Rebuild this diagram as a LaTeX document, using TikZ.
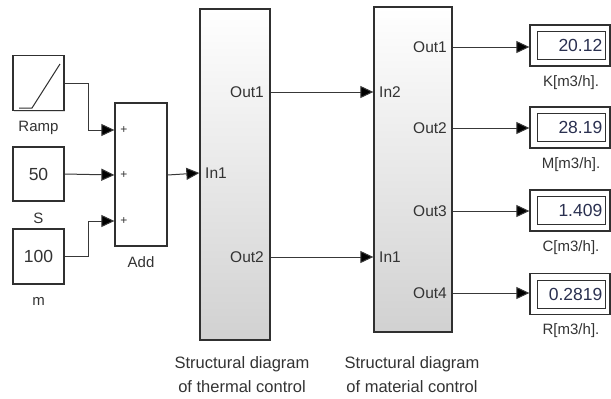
\documentclass[tikz,border=0pt]{standalone}
\usepackage{fontspec}
\setmainfont{Liberation Sans}
\usetikzlibrary{arrows.meta,shadows}
\definecolor{wire}{HTML}{383838}
\definecolor{edge}{HTML}{303030}
\definecolor{txt}{HTML}{333333}
\definecolor{valc}{HTML}{2A3050}
\tikzset{
  blk/.style={draw=edge,line width=1.3pt,fill=white,minimum width=51pt,minimum height=55pt,inner sep=0pt,
    drop shadow={shadow xshift=1.2pt,shadow yshift=-1.2pt,fill=black!25}},
  subsys/.style={draw=edge,line width=1.3pt,top color=white,bottom color=black!18,inner sep=0pt,
    drop shadow={shadow xshift=1.2pt,shadow yshift=-1.2pt,fill=black!25}},
  lbl/.style={font=\fontsize{15}{17}\selectfont,text=txt,inner sep=0pt},
  plbl/.style={font=\fontsize{15.5}{17}\selectfont,text=txt,inner sep=0pt},
  wireline/.style={draw=wire,line width=1pt,-{Triangle[length=13pt,width=12pt,fill=black]}},
  dispout/.style={draw=edge,line width=1.3pt,fill=white,minimum width=80pt,minimum height=41pt,inner sep=0pt},
  dispin/.style={draw=edge,line width=1pt,minimum width=68pt,minimum height=28pt,inner sep=0pt},
  val/.style={font=\fontsize{17.5}{19}\selectfont,text=valc,inner sep=0pt,anchor=east},
  plus/.style={font=\fontsize{12}{12}\selectfont,text=txt,inner sep=0pt},
  captxt/.style={align=center,text=txt,inner sep=0pt,font=\fontsize{16.5}{24}\selectfont},
}
\begin{document}
\begin{tikzpicture}[x=1pt,y=-1pt]
\useasboundingbox (0,0) rectangle (611,399);
% sources
\node[blk] (ramp) at (38.5,83) {};
\draw[edge,line width=1pt] (19,108) -- (32,108) -- (60,64);
\node[lbl] (rampl) at (38.5,128) {Ramp};
\node[blk,minimum height=54pt] (s) at (38.5,174) {\fontsize{17.5}{19}\selectfont\color{txt}50};
\node[lbl] (sl) at (38.5,218) {S};
\node[blk] (m) at (38.5,256.5) {\fontsize{17.5}{19}\selectfont\color{txt}100};
\node[lbl] (ml) at (38.5,301) {m};
% add
\node[blk,minimum width=52pt,minimum height=143pt] (add) at (141,174.5) {};
\node[lbl] (addl) at (141,262) {Add};
\node[plus] (p1) at (124,130) {+};
\node[plus] (p2) at (124,175) {+};
\node[plus] (p3) at (124,221) {+};
\coordinate (j1) at (88,130);
\coordinate (j3) at (88,221);
\draw[wireline] (ramp.east) -| (j1) -- (add.west |- p1);
\draw[wireline] (s.east) -- (add.west |- p2);
\draw[wireline] (m.east) -| (j3) -- (add.west |- p3);
% thermal
\node[subsys,minimum width=70pt,minimum height=331pt] (th) at (235,174.5) {};
\node[plbl,anchor=west] (thin) at (205,173) {In1};
\node[plbl,anchor=east] (tho1) at (264,92) {Out1};
\node[plbl,anchor=east] (tho2) at (264,257) {Out2};
\node[captxt] (thc) at (242,375) {Structural diagram\\of thermal control};
\draw[wireline] (add.east |- p2) -- (th.west |- thin);
% material
\node[subsys,minimum width=78pt,minimum height=325pt] (ma) at (413,169.5) {};
\node[plbl,anchor=west] (mi2) at (379,92) {In2};
\node[plbl,anchor=west] (mi1) at (379,257) {In1};
\node[plbl,anchor=east] (mo1) at (447,47) {Out1};
\node[plbl,anchor=east] (mo2) at (447,128) {Out2};
\node[plbl,anchor=east] (mo3) at (447,211) {Out3};
\node[plbl,anchor=east] (mo4) at (447,293) {Out4};
\node[captxt] (mac) at (412,375) {Structural diagram\\of material control};
\draw[wireline] (th.east |- tho1) -- (ma.west |- mi2);
\draw[wireline] (th.east |- tho2) -- (ma.west |- mi1);
% displays
\foreach \n/\y/\v/\l in {1/45.5/20.12/{K[m3/h].},2/127.5/28.19/{M[m3/h].},3/210.5/1.409/{C[m3/h].},4/294/0.2819/{R[m3/h].}}{
  \node[dispout] (d\n) at (570,\y) {};
  \node[dispin] (di\n) at (571,\y) {};
  \node[val] (v\n) at (602.5,\y) {\v};
  \node[lbl] (dl\n) at (571,\y+37) {\l};
}
\draw[wireline] (ma.east |- mo1) -- (d1.west |- mo1);
\draw[wireline] (ma.east |- mo2) -- (d2.west |- mo2);
\draw[wireline] (ma.east |- mo3) -- (d3.west |- mo3);
\draw[wireline] (ma.east |- mo4) -- (d4.west |- mo4);
\end{tikzpicture}
\end{document}
